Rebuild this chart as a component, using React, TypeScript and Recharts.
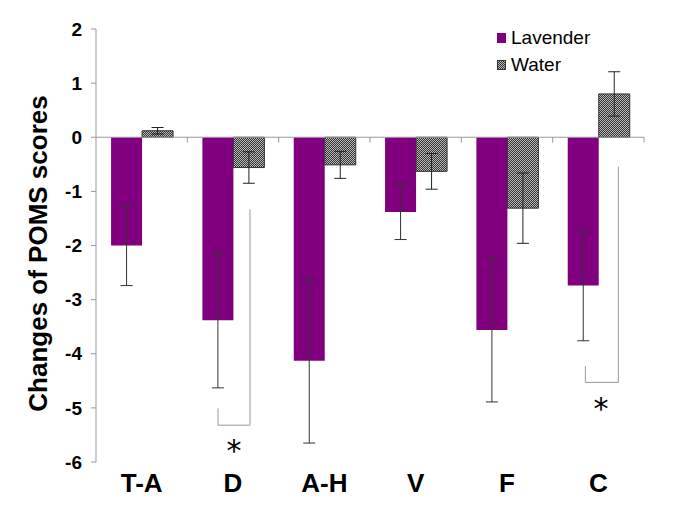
import React from "react"
import {
  BarChart,
  Bar,
  XAxis,
  YAxis,
  ErrorBar,
  ReferenceLine,
  ReferenceDot,
  Legend,
} from "recharts"

const categories = ["T-A", "D", "A-H", "V", "F", "C"]
const lavender = [-2.0, -3.38, -4.13, -1.38, -3.56, -2.74]
const lavenderErr = [0.74, 1.25, 1.52, 0.51, 1.33, 1.02]
const water = [0.12, -0.56, -0.51, -0.63, -1.31, 0.8]
const waterErr = [0.06, 0.29, 0.25, 0.33, 0.65, 0.41]
const yTicks = [-6, -5, -4, -3, -2, -1, 0, 1, 2]

// significance brackets: category, y levels in score units, x offsets as fractions of a band
const brackets = [
  { cat: "D", leftTop: -5.01, bottom: -5.32, rightTop: -1.33, starY: -5.66, left: -0.164, right: 0.186, star: 0.01 },
  { cat: "C", leftTop: -4.23, bottom: -4.53, rightTop: -0.54, starY: -4.9, left: -0.142, right: 0.219, star: 0.03 },
]

const data = categories.map((name, i) => ({
  name,
  lavender: lavender[i],
  lavenderErr: lavenderErr[i],
  water: water[i],
  waterErr: waterErr[i],
}))

const W = 685
const H = 513
const M = { top: 29, right: 41, left: 0, bottom: 0 }
const Y_W = 96
const BAND = (W - M.right - M.left - Y_W) / categories.length

const FONT = "'Liberation Sans', Arial, sans-serif"

function LegendBox() {
  return (
    <div style={{ fontFamily: FONT, fontSize: 19, color: "#000", lineHeight: "27px" }}>
      <div style={{ display: "flex", alignItems: "center" }}>
        <span style={{ width: 9, height: 10, background: "#800080", display: "inline-block", marginRight: 5 }} />
        Lavender
      </div>
      <div style={{ display: "flex", alignItems: "center" }}>
        <svg width={9} height={10} style={{ marginRight: 5 }}>
          <defs>
            <pattern id="checkLeg" width={2} height={2} patternUnits="userSpaceOnUse">
              <rect width={2} height={2} fill="#333" />
              <rect width={1} height={1} fill="#bbb" />
              <rect x={1} y={1} width={1} height={1} fill="#bbb" />
            </pattern>
          </defs>
          <rect x={0.5} y={0.5} width={8} height={9} fill="url(#checkLeg)" stroke="#333" />
        </svg>
        Water
      </div>
    </div>
  )
}

function YLabel({ viewBox }: { viewBox?: { x: number; y: number; width: number; height: number } }) {
  if (!viewBox) return null
  const cx = 38
  const cy = viewBox.y + viewBox.height / 2 + 8
  return (
    <text
      x={cx}
      y={cy}
      transform={`rotate(-90, ${cx}, ${cy})`}
      textAnchor="middle"
      dominantBaseline="central"
      fontFamily={FONT}
      fontWeight="bold"
      fontSize={26}
      fill="#000"
    >
      Changes of POMS scores
    </text>
  )
}

// line shape that shifts each end sideways by a fraction of the category band
const shifted = (f1: number, f2: number) => (p: any) =>
  (
    <line
      x1={p.x1 + f1 * BAND}
      y1={p.y1}
      x2={p.x2 + f2 * BAND}
      y2={p.y2}
      stroke="#999"
      strokeWidth={1}
    />
  )

export default function App() {
  return (
    <div style={{ position: "absolute", left: 0, top: 0, background: "#fff" }}>
      <BarChart width={W} height={H} data={data} margin={M} barCategoryGap="16.5%" barGap={0}>
        <defs>
          <pattern id="checker" width={2} height={2} patternUnits="userSpaceOnUse">
            <rect width={2} height={2} fill="#333" />
            <rect width={1} height={1} fill="#bbb" />
            <rect x={1} y={1} width={1} height={1} fill="#bbb" />
          </pattern>
        </defs>
        <XAxis
          dataKey="name"
          axisLine={false}
          tickLine={false}
          height={51}
          tickMargin={6}
          tick={{ fontSize: 26, fontWeight: "bold", fill: "#000", fontFamily: FONT }}
        />
        <YAxis
          domain={[-6, 2]}
          ticks={yTicks}
          width={Y_W}
          axisLine={{ stroke: "#999" }}
          tickLine={{ stroke: "#999" }}
          tickSize={5}
          tickMargin={9}
          tick={{ fontSize: 19, fontWeight: "bold", fill: "#000", fontFamily: FONT }}
          label={<YLabel />}
        />
        <Legend
          verticalAlign="middle"
          layout="horizontal"
          content={() => <LegendBox />}
          wrapperStyle={{ top: 24, left: 497, width: 120 }}
        />
        <Bar dataKey="lavender" fill="#800080" isAnimationActive={false}>
          <ErrorBar dataKey="lavenderErr" width={6} stroke="#333" strokeWidth={1} direction="y" />
        </Bar>
        <Bar dataKey="water" fill="url(#checker)" stroke="#333" strokeWidth={1} isAnimationActive={false}>
          <ErrorBar dataKey="waterErr" width={6} stroke="#222" strokeWidth={1} direction="y" />
        </Bar>
        <ReferenceLine y={0} stroke="#999" />
        {categories.map((c) => (
          <ReferenceLine
            key={"t" + c}
            segment={[
              { x: c, y: 0 },
              { x: c, y: -0.1 },
            ]}
            shape={shifted(0.5, 0.5)}
          />
        ))}
        {brackets.map((b) => (
          <ReferenceLine
            key={"bl" + b.cat}
            segment={[
              { x: b.cat, y: b.leftTop },
              { x: b.cat, y: b.bottom },
            ]}
            shape={shifted(b.left, b.left)}
          />
        ))}
        {brackets.map((b) => (
          <ReferenceLine
            key={"bb" + b.cat}
            segment={[
              { x: b.cat, y: b.bottom },
              { x: b.cat, y: b.bottom },
            ]}
            shape={shifted(b.left, b.right)}
          />
        ))}
        {brackets.map((b) => (
          <ReferenceLine
            key={"br" + b.cat}
            segment={[
              { x: b.cat, y: b.bottom },
              { x: b.cat, y: b.rightTop },
            ]}
            shape={shifted(b.right, b.right)}
          />
        ))}
        {brackets.map((b) => (
          <ReferenceDot
            key={"s" + b.cat}
            x={b.cat}
            y={b.starY}
            r={0}
            shape={(p: { cx: number; cy: number }) => (
              <text
                x={p.cx + b.star * BAND}
                y={p.cy + 17}
                textAnchor="middle"
                fontFamily="'DejaVu Sans', sans-serif"
                fontSize={30}
                fill="#000"
              >
                *
              </text>
            )}
          />
        ))}
      </BarChart>
    </div>
  )
}
